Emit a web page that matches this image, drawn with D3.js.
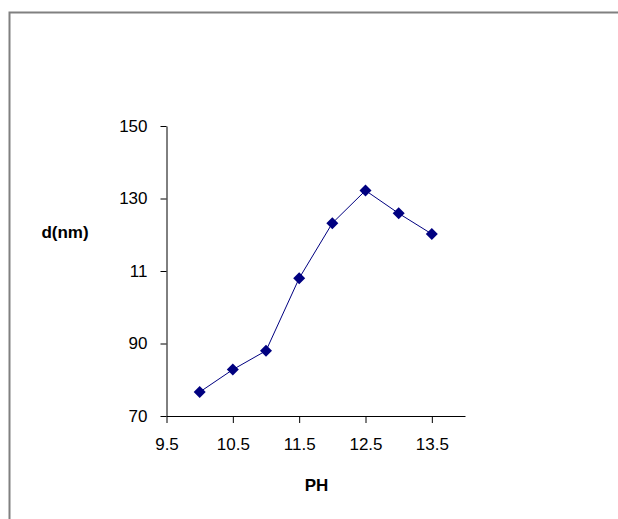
<!DOCTYPE html>
<html>
<head>
<meta charset="utf-8">
<script src="https://cdn.jsdelivr.net/npm/d3@7"></script>
<style>
  body { margin: 0; background: #fff; }
  svg { display: block; font-family: 'Liberation Sans', Arial, sans-serif; }
</style>
</head>
<body>
<svg></svg>
<script>
let width = 618
let height = 519

let ph = [10, 10.5, 11, 11.5, 12, 12.5, 13, 13.5]
let size = [76.6, 82.8, 88, 108, 123.2, 132.2, 125.9, 120.2]

let xTicks = [9.5, 10.5, 11.5, 12.5, 13.5]
let yTicks = [70, 90, 110, 130, 150]
let yTickLabels = ['70', '90', '11', '130', '150']

let xScale = d3.scaleLinear()
                .domain([9.5, 14])
                .range([166.5, 465])

let yScale = d3.scaleLinear()
                .domain([70, 150])
                .range([416, 126])

let svg = d3.select('svg')
    .attr('width', width)
    .attr('height', height)

// chart area frame (only top and left show inside the picture)
svg.append('path')
    .attr('d', `M9.5,${height} V12.5 H${width}`)
    .attr('fill', 'none')
    .attr('stroke', '#808080')
    .attr('stroke-width', 2)

let xAxis = d3.axisBottom(xScale)
              .tickValues(xTicks)
              .tickFormat(d3.format('.1f'))
              .tickSize(7)
              .tickSizeOuter(0)
              .tickPadding(15)

let yAxis = d3.axisLeft(yScale)
              .tickValues(yTicks)
              .tickFormat((d, i) => yTickLabels[i])
              .tickSize(6)
              .tickSizeOuter(0)
              .tickPadding(13)

let gx = svg.append('g')
    .attr('transform', `translate(0, ${yScale(70)})`)
    .call(xAxis)

let gy = svg.append('g')
    .attr('transform', `translate(${xScale(9.5)}, 0)`)
    .call(yAxis)

svg.selectAll('.domain, .tick line')
    .attr('stroke', '#000')

svg.selectAll('.tick text')
    .attr('fill', '#000')
    .style('font-size', '17px')
    .style('font-family', "'Liberation Sans', Arial, sans-serif")

let line = d3.line()
              .x((d, i) => xScale(ph[i]))
              .y(d => yScale(d))

svg.append('path')
    .datum(size)
    .attr('d', line)
    .attr('fill', 'none')
    .attr('stroke', '#000080')
    .attr('stroke-width', 1)

svg.selectAll('.marker')
  .data(size)
  .enter()
  .append('path')
    .attr('class', 'marker')
    .attr('d', 'M0,-6 L6,0 L0,6 L-6,0 Z')
    .attr('transform', (d, i) => `translate(${xScale(ph[i])}, ${yScale(d)})`)
    .attr('fill', '#000080')

svg.append('text')
    .attr('x', 65)
    .attr('y', 238)
    .style('text-anchor', 'middle')
    .style('font-size', '17px')
    .style('font-weight', 'bold')
    .text('d(nm)')

svg.append('text')
    .attr('x', 316.5)
    .attr('y', 491)
    .style('text-anchor', 'middle')
    .style('font-size', '17px')
    .style('font-weight', 'bold')
    .text('PH')
</script>
</body>
</html>
